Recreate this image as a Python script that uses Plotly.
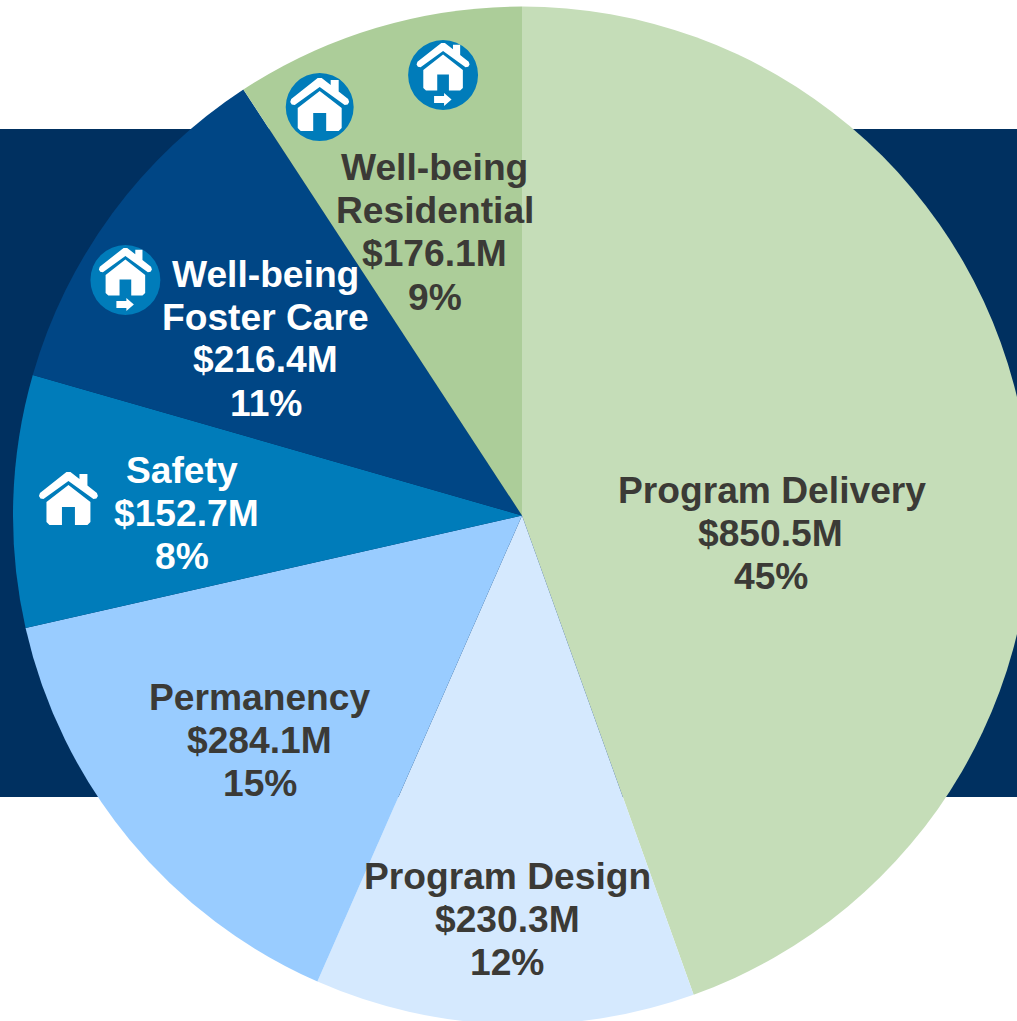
import plotly.graph_objects as go

categories = ["Program Delivery", "Program Design", "Permanency", "Safety",
              "Well-being Foster Care", "Well-being Residential"]
values = [850.5, 230.3, 284.1, 152.7, 216.4, 176.1]
percents = ["45%", "12%", "15%", "8%", "11%", "9%"]
name_lines = [["Program Delivery"], ["Program Design"], ["Permanency"], ["Safety"],
              ["Well-being", "Foster Care"], ["Well-being", "Residential"]]
slice_colors = ["#C5DDB8", "#D5E9FE", "#99CCFF", "#007CBA", "#004685", "#ACCD99"]
text_colors = ["#3B3A36", "#3B3A36", "#3B3A36", "#FFFFFF", "#FFFFFF", "#3B3A36"]
# horizontal centre of each line and first-line centre of each label block, in page pixels
label_x = [[772, 771, 771], [507, 507, 507], [260, 259, 260], [182, 186, 182],
           [265, 265, 265, 266], [434, 435, 434, 435]]
label_y = [489.5, 875.5, 696.5, 469.5, 273.5, 167.5]
LINE_GAP = 43
FONT_SIZE = 37.2

W, H = 1044, 1031
ML, MR, MT, MB = 12.5, 12.5, 6, 6
PW, PH = W - ML - MR, H - MT - MB


def px(x):
    return (x - ML) / PW


def py(y):
    return 1 - (y - MT) / PH


def poly(points, cx, cy):
    parts = [f"{'M' if i == 0 else 'L'}{px(cx + a):.5f},{py(cy + b):.5f}" for i, (a, b) in enumerate(points)]
    return " ".join(parts) + " Z"


ICON_BLUE = "#007CBA"
shapes = [dict(type="rect", xref="paper", yref="paper", layer="below",
               x0=px(-5), x1=px(1050), y0=py(129), y1=py(797),
               fillcolor="#003060", line_width=0)]


def add_shape(path, color):
    shapes.append(dict(type="path", xref="paper", yref="paper", layer="above",
                       path=path, fillcolor=color, line_width=0))


def add_icon(cx, cy, r, arrow, circle=True):
    if circle:
        shapes.append(dict(type="circle", xref="paper", yref="paper", layer="above",
                           x0=px(cx - r), x1=px(cx + r), y0=py(cy - r), y1=py(cy + r),
                           fillcolor=ICON_BLUE, line_width=0))
    s = 0.9 if arrow else 1.0
    dy = -6 if arrow else 0

    def P(pts):
        return [(a * s, b * s + dy) for a, b in pts]
    roof = [(-2, -29), (2, -29), (11, -22), (11, -27), (19, -27), (19, -15.5), (28.5, -8), (29.5, -5),
            (28, -2.5), (25, -2), (0, -20), (-25, -2), (-28, -2.5), (-29.5, -5), (-28.5, -8)]
    body = [(0, -16), (22, 1), (22, 21), (19, 24), (6.5, 24), (6.5, 6), (-6.5, 6), (-6.5, 24),
            (-19, 24), (-22, 21), (-22, 1)]
    add_shape(poly(P(roof), cx, cy), "#FFFFFF")
    add_shape(poly(P(body), cx, cy), "#FFFFFF")
    if arrow:
        a = [(-9, 21), (1, 21), (1, 18), (8.5, 24.5), (1, 31), (1, 28), (-9, 28)]
        add_shape(poly(a, cx, cy), "#FFFFFF")


add_icon(319.5, 107, 34, False)
add_icon(443, 75, 35, True)
add_icon(125, 280, 35, True)
add_icon(68, 501, 34, False, circle=False)

annotations = []
for i, cat in enumerate(categories):
    lines = name_lines[i] + [f"${values[i]}M", percents[i]]
    for j, line in enumerate(lines):
        annotations.append(dict(
            xref="paper", yref="paper", x=px(label_x[i][j]), y=py(label_y[i] + j * LINE_GAP),
            xanchor="center", yanchor="middle", showarrow=False, text=f"<b>{line}</b>",
            font=dict(family="Liberation Sans", size=FONT_SIZE, color=text_colors[i])))

fig = go.Figure(go.Pie(
    labels=categories, values=values, sort=False, direction="clockwise", rotation=0,
    marker=dict(colors=slice_colors, line=dict(width=0)),
    textinfo="none", hoverinfo="label+value", showlegend=False,
    domain=dict(x=[0, 1], y=[0, 1])))
fig.update_layout(width=W, height=H, margin=dict(l=ML, r=MR, t=MT, b=MB),
                  paper_bgcolor="white", shapes=shapes, annotations=annotations, showlegend=False)
fig.write_html("out.html", config=dict(displayModeBar=False), post_script=(
    "document.documentElement.style.overflow='hidden';"
    "document.body.style.overflow='hidden';document.body.style.margin='0';"))
